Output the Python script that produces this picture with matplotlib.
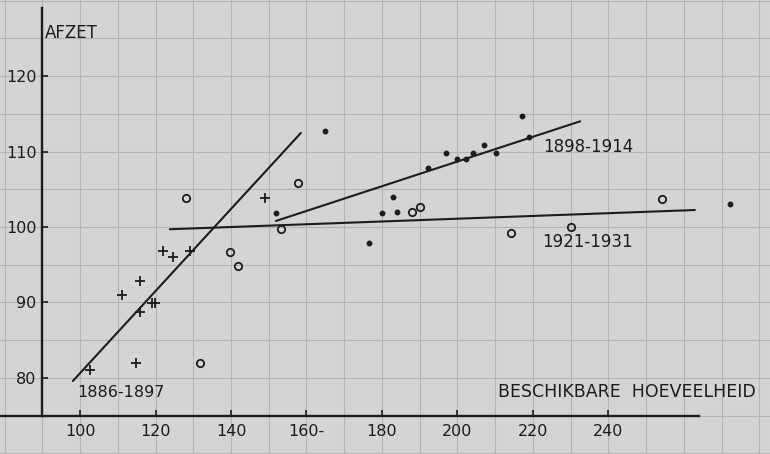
import matplotlib
matplotlib.use("Agg")
import matplotlib.pyplot as plt
from matplotlib.ticker import MultipleLocator

# 1886-1897 (kruisjes)
x_8697 = [102.6, 111.1, 114.8, 115.9, 115.9, 119.0, 119.9, 121.9, 124.7, 129.1, 149.0]
y_8697 = [81.1, 91.0, 82.0, 92.8, 88.7, 89.9, 89.9, 96.8, 96.0, 96.8, 103.8]
# 1898-1914 (stippen)
x_9814 = [151.9, 164.9, 176.6, 180.0, 182.9, 184.0, 192.2, 197.0, 199.9, 202.3,
          204.1, 207.0, 210.2, 217.1, 218.9, 272.2]
y_9814 = [101.9, 112.7, 97.9, 101.9, 104.0, 102.0, 107.8, 109.8, 109.0, 109.0,
          109.8, 110.9, 109.8, 114.7, 111.9, 103.0]
# 1921-1931 (rondjes)
x_2131 = [128.1, 131.8, 139.7, 141.9, 153.2, 157.7, 188.0, 190.1, 214.2, 230.1, 254.2]
y_2131 = [103.8, 82.0, 96.7, 94.8, 99.7, 105.8, 102.0, 102.6, 99.2, 100.0, 103.7]

# trendlijnen: begin- en eindpunt
lijn_8697 = ([98.1, 158.5], [79.6, 112.45])
lijn_9814 = ([151.9, 232.5], [100.8, 114.0])
lijn_2131 = ([123.8, 262.9], [99.7, 102.25])

x_ticks = [100, 120, 140, 160, 180, 200, 220, 240]
x_labels = ["100", "120", "140", "160-", "180", "200", "220", "240"]
y_ticks = [80, 90, 100, 110, 120]

ink = "#1c1c1c"
paper = "#d4d4d4"

fig = plt.figure(figsize=(7.7, 4.54), dpi=100, facecolor=paper)
ax = fig.add_axes([0, 0, 1, 1], facecolor=paper)
ax.set_xlim(78.8, 282.8)
ax.set_ylim(69.93, 130.07)

# ruitjespapier
ax.xaxis.set_minor_locator(MultipleLocator(10))
ax.yaxis.set_minor_locator(MultipleLocator(5))
ax.set_xticks(x_ticks)
ax.set_xticklabels(x_labels)
ax.set_yticks(y_ticks)
ax.grid(which="both", color="#b3b3b3", lw=0.8)
ax.set_axisbelow(True)

# assen
for s in ["top", "right"]:
    ax.spines[s].set_visible(False)
ax.spines["left"].set_position(("data", 90))
ax.spines["bottom"].set_position(("data", 75))
ax.spines["left"].set_bounds(75, 129)
ax.spines["bottom"].set_bounds(79, 264)
for s in ["left", "bottom"]:
    ax.spines[s].set_color(ink)
    ax.spines[s].set_linewidth(1.7)
ax.tick_params(which="minor", length=0)
ax.tick_params(which="major", direction="in", length=4, width=1.2, color=ink,
               labelsize=11.5, labelcolor=ink)
ax.tick_params(axis="x", pad=6)
ax.tick_params(axis="y", pad=4)

# trendlijnen
for lx, ly in [lijn_8697, lijn_9814, lijn_2131]:
    ax.plot(lx, ly, color=ink, lw=1.5, solid_capstyle="round")

# waarnemingen
ax.plot(x_8697, y_8697, "+", color=ink, ms=6.5, mew=1.3)
ax.plot(x_9814, y_9814, "o", color=ink, ms=3.2)
ax.plot(x_2131, y_2131, "o", mfc="none", mec=ink, ms=5.3, mew=1.3)

# teksten
ax.text(90.7, 125.7, "AFZET", fontsize=12, color=ink, va="center")
ax.text(210.7, 78.1, "BESCHIKBARE  HOEVEELHEID", fontsize=12.5, color=ink, va="center")
ax.text(99.2, 78.1, "1886-1897", fontsize=11.5, color=ink, va="center")
ax.text(222.6, 110.6, "1898-1914", fontsize=12, color=ink, va="center")
ax.text(222.4, 98.0, "1921-1931", fontsize=12, color=ink, va="center")

fig.savefig("out.png", dpi=100, facecolor=paper)
